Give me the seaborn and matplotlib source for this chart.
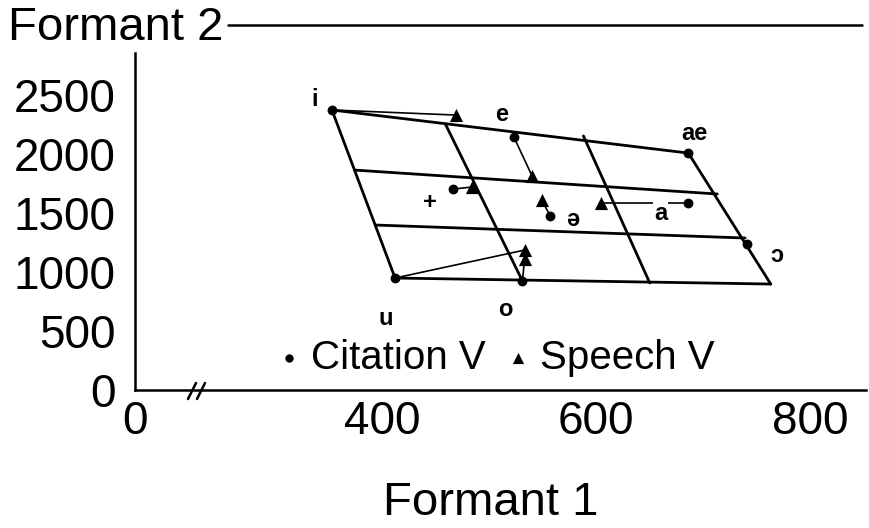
import matplotlib
matplotlib.use("Agg")
import matplotlib.pyplot as plt
from matplotlib.lines import Line2D
import seaborn as sns
import pandas as pd

# ---- data (Formant 1, Formant 2 in Hz) ----
vowels = ["i", "e", "ae", "+", "ə", "a", "ɔ", "u", "o"]
cit_f1 = [353, 523, 686, 466, 557, 686, 741, 412, 531]
cit_f2 = [2373, 2144, 2008, 1703, 1475, 1585, 1237, 949, 924]

sp_vowels = ["i", "e", "+", "ə", "a", "u", "o"]
sp_f1 = [469, 540, 484, 549, 604, 533, 533]
sp_f2 = [2330, 1814, 1720, 1610, 1585, 1186, 1110]

# vowel-space grid lines: (F1 start, F2 start, F1 end, F2 end)
grid_f1a = [353, 353, 412, 686, 374, 394, 459, 588]
grid_f2a = [2373, 2373, 949, 2008, 1864, 1398, 2254, 2153]
grid_f1b = [686, 412, 763, 763, 713, 739, 531, 650]
grid_f2b = [2008, 949, 898, 898, 1661, 1288, 924, 907]

# label positions
lab_text = ["i", "e", "ae", "+", "ə", "a", "ɔ", "u", "o"]
lab_f1 = [337, 512, 692, 445, 578, 660, 769, 403, 515]
lab_f2 = [2458, 2331, 2178, 1585, 1441, 1500, 1144, 610, 686]

x_ticks = [169, 400, 600, 800]
x_ticklabels = ["0", "400", "600", "800"]
y_ticks = [0, 500, 1000, 1500, 2000, 2500]

sns.set_style("white")
plt.rcParams["font.family"] = ["Liberation Sans", "DejaVu Sans"]
for k in ["text.color", "axes.labelcolor", "xtick.color", "ytick.color", "axes.edgecolor"]:
    plt.rcParams[k] = "black"

W, H = 870, 528
fig = plt.figure(figsize=(W / 100, H / 100), dpi=100)
ax = fig.add_axes([135 / W, (H - 390) / H, (866 - 135) / W, (390 - 53) / H])

# grid
for a1, a2, b1, b2 in zip(grid_f1a, grid_f2a, grid_f1b, grid_f2b):
    ax.plot([a1, b1], [a2, b2], color="black", lw=2.0, solid_capstyle="round", zorder=2)

# connections citation -> speech
cit = pd.DataFrame({"vowel": vowels, "F1": cit_f1, "F2": cit_f2})
sp = pd.DataFrame({"vowel": sp_vowels, "F1": sp_f1, "F2": sp_f2})
m = sp.merge(cit, on="vowel", suffixes=("_s", "_c"))
for _, r in m.iterrows():
    ax.plot([r.F1_c, r.F1_s], [r.F2_c, r.F2_s], color="black", lw=1.2, zorder=2)

sns.scatterplot(data=cit, x="F1", y="F2", marker="o", color="black", s=50,
                edgecolor="black", linewidth=0, ax=ax, label="Citation V", zorder=3)
sns.scatterplot(data=sp, x="F1", y="F2", marker="^", color="black", s=90,
                edgecolor="black", linewidth=0, ax=ax, label="Speech V", zorder=3)

for t, x, y in zip(lab_text, lab_f1, lab_f2):
    bbox = dict(facecolor="white", edgecolor="none", pad=0.5) if t == "a" else None
    ax.text(x, y, t, ha="center", va="center", fontsize=17, fontweight="bold",
            bbox=bbox, zorder=4)

ax.set_xlim(169, 852)
ax.set_ylim(0, 2856)
ax.set_xticks(x_ticks)
ax.set_xticklabels(x_ticklabels)
ax.set_yticks(y_ticks)
ax.tick_params(axis="both", length=0, labelsize=33)
ax.tick_params(axis="x", pad=7)
ax.tick_params(axis="y", pad=14)
for s in ["top", "right"]:
    ax.spines[s].set_visible(False)
for s in ["left", "bottom"]:
    ax.spines[s].set_linewidth(1.8)
    ax.spines[s].set_color("black")
ax.set_xlabel("Formant 1", fontsize=34)
ax.xaxis.set_label_coords((491 - 135) / (866 - 135), -0.27)
ax.set_ylabel("")

# axis break mark
for dx in [0, 9]:
    fig.add_artist(Line2D([(188 + dx) / W, (196 + dx) / W],
                          [(H - 399) / H, (H - 383) / H], color="black", lw=1.8))

# title "Formant 2" with rule
fig.text(8 / W, (H - 40) / H, "Formant 2", fontsize=34, ha="left", va="baseline")
fig.add_artist(Line2D([228 / W, 862 / W], [(H - 25) / H, (H - 25) / H], color="black", lw=1.8))

leg = ax.legend(loc="center", bbox_to_anchor=(497 / W, (H - 358) / H),
                bbox_transform=fig.transFigure, ncol=2, frameon=False, fontsize=29,
                handlelength=0.5, handletextpad=0.3, columnspacing=0.55, markerscale=0.85)

fig.savefig("out.png", dpi=100)
